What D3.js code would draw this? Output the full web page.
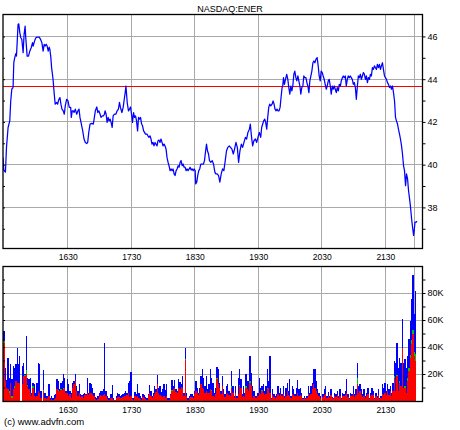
<!DOCTYPE html>
<html><head><meta charset="utf-8">
<script src="https://cdn.jsdelivr.net/npm/d3@7"></script>
<style>
body{margin:0;background:#fff}
svg{display:block}
text{font-family:"Liberation Sans",Arial,sans-serif;fill:#000}
</style>
</head><body>
<svg id="chart" width="460" height="430"></svg>
<script>
// ---------------- DATA ----------------
const title = "NASDAQ:ENER";
const copyright = "(c) www.advfn.com";
const prevClose = 43.66;
// time = minutes after 15:00
const timeTickValues = [90,150,210,270,330,390];
const timeTickLabels = ["1630","1730","1830","1930","2030","2130"];
const cursorTime = 417.4;
const priceTickValues = [37,38,39,40,41,42,43,44,45,46];
const priceLabelValues = [38,40,42,44,46];
const volTickValues = [10,20,30,40,50,60,70,80,90];
const volLabelValues = [20,40,60,80];

const priceTime = [
28.9,29.6,31.2,32.2,33.7,35.3,36.2,37.2,38.4,39.1,
40.0,41.0,41.6,42.2,43.1,43.8,44.8,45.7,46.7,47.9,
48.8,49.8,50.4,51.7,53.0,54.2,55.5,56.8,57.4,58.7,
59.9,61.2,63.1,64.4,65.6,66.8,67.8,68.7,69.7,70.6,
71.6,72.5,73.2,74.1,74.8,75.8,76.3,77.3,78.2,79.6,
80.5,81.4,82.7,83.6,84.6,85.8,86.8,87.7,89.0,90.3,
91.5,92.8,93.4,94.3,95.3,96.0,97.2,98.5,99.7,100.7,
101.6,102.9,104.2,105.4,106.7,108.0,108.9,109.9,111.1,112.7,
114.2,115.2,116.1,117.5,118.4,119.4,120.6,121.5,122.8,123.7,
124.7,
125.3,126.3,127.2,128.2,129.1,130.1,131.0,132.0,132.9,134.2,
135.5,136.7,137.9,138.9,139.8,141.2,142.4,143.4,144.3,145.0,
145.5,146.2,147.4,148.4,149.3,150.3,151.2,152.2,153.1,154.1,
155.0,156.0,156.9,157.9,158.8,159.8,160.7,161.7,162.6,163.5,
164.9,165.8,166.8,167.7,168.7,169.6,170.6,171.5,172.5,173.4,
174.4,175.3,176.2,177.2,178.1,179.1,180.0,181.0,181.9,182.9,
183.8,184.8,185.7,186.7,187.6,188.6,189.5,190.5,191.4,192.4,
193.3,194.3,195.2,196.2,197.1,198.1,199.0,199.9,200.9,201.8,
202.8,203.7,204.7,205.6,206.6,207.5,208.5,209.4,210.4,210.9,
211.9,212.8,213.8,214.7,215.7,217.0,218.2,219.2,220.1,221.1,
222.0,223.0,223.9,225.2,226.5,227.7,
229.0,229.9,231.2,232.5,233.7,235.0,236.3,237.5,238.8,240.0,
241.3,242.6,243.8,245.1,246.4,247.6,248.9,250.2,251.4,252.7,
254.0,255.2,256.5,257.8,259.0,260.2,261.6,262.5,263.5,264.7,
265.9,267.3,268.5,269.7,271.0,272.3,273.2,274.2,275.1,276.1,
277.0,278.0,278.9,279.9,280.8,281.8,283.0,284.0,284.9,285.8,
286.8,287.7,288.7,289.6,290.6,291.5,292.5,293.1,293.8,294.7,
295.7,296.9,297.9,298.8,299.8,300.7,301.7,302.6,303.6,304.5,
305.5,306.4,307.4,308.3,309.3,310.2,311.1,312.1,313.0,314.0,
315.0,315.9,316.8,317.8,318.7,319.7,320.6,321.6,322.5,323.5,
324.4,325.6,326.6,327.5,328.5,329.4,330.4,331.3,332.3,333.2,
334.2,335.1,336.1,337.0,338.0,338.9,339.9,340.8,341.8,342.7,
343.7,344.6,345.6,346.5,347.5,348.4,349.4,350.3,351.2,352.2,
353.1,354.1,355.0,356.0,356.9,357.9,358.8,359.8,360.7,361.7,
362.6,363.6,364.5,365.5,366.4,367.4,368.3,369.3,370.2,371.2,
372.1,373.1,374.0,375.0,375.9,376.8,377.8,378.7,379.7,380.6,
381.6,382.5,383.5,384.4,385.4,386.3,387.3,388.2,389.2,390.1,
391.1,392.0,393.0,393.9,394.9,395.8,396.8,397.7,398.7,399.6,
400.5,401.5,402.4,403.4,404.3,405.3,406.2,407.2,408.1,409.1,
410.0,411.0,411.9,412.9,413.8,414.8,415.7,416.7,417.3,418.0,
419.2,419.9
];
const priceValue = [
40.34,39.75,39.65,40.81,41.74,42.05,42.98,43.53,43.61,44.77,
45.01,45.19,45.08,45.63,46.56,46.59,46.17,45.94,45.86,45.24,
46.09,46.48,45.94,45.08,45.08,45.31,45.47,45.71,45.55,45.78,
45.94,45.97,45.97,45.86,45.71,45.31,45.63,45.55,45.63,45.55,
45.31,45.50,45.39,45.01,44.54,44.15,43.92,43.30,42.83,42.91,
42.83,43.02,43.14,42.83,42.60,42.52,42.36,42.75,43.06,42.98,
42.68,42.68,42.21,42.52,42.52,42.44,42.60,42.36,42.52,42.60,
42.21,41.90,41.58,41.20,41.04,40.99,41.04,41.51,41.90,41.93,
41.90,42.21,42.52,42.70,42.44,42.52,42.36,42.21,42.28,42.28,
42.36,
42.52,42.36,41.98,42.21,42.05,42.13,41.98,41.74,42.28,42.36,
42.36,42.52,42.60,42.91,42.68,42.44,42.68,43.06,43.37,43.68,
43.37,42.91,42.52,42.60,42.70,42.36,41.98,42.44,42.21,42.28,
42.05,41.58,42.21,42.13,42.21,41.90,41.82,41.58,41.51,41.43,
41.43,41.35,41.28,41.35,41.20,40.96,41.04,40.88,41.04,40.96,
40.88,41.12,41.15,41.04,41.20,41.04,40.88,40.96,40.88,40.73,
40.34,40.11,39.95,39.72,39.80,39.72,39.80,39.57,39.49,39.72,
39.80,39.95,39.88,40.11,40.19,39.95,40.03,39.88,39.88,39.72,
39.80,39.72,39.80,39.88,39.75,39.80,39.72,39.80,39.72,39.10,
39.18,39.49,39.72,39.80,40.03,40.03,40.03,40.19,40.58,40.96,
40.65,40.50,40.19,40.11,40.19,40.03,
39.65,39.57,39.57,39.49,39.18,39.57,39.80,39.72,40.19,40.65,
40.81,40.88,40.81,40.73,40.50,40.73,41.04,40.81,40.11,40.65,
40.96,40.81,41.04,41.28,41.20,41.51,41.66,41.90,41.35,40.88,
41.12,41.20,41.04,41.28,41.51,41.28,41.74,41.90,42.05,42.13,
41.98,41.66,42.21,42.68,42.83,42.75,42.83,42.98,42.83,42.60,
42.52,42.60,42.52,42.52,42.68,43.14,43.61,43.68,44.07,43.76,
43.99,44.23,43.99,43.61,43.30,43.68,43.45,43.68,44.23,44.38,
44.07,43.92,44.15,43.92,43.68,43.30,43.61,43.68,44.15,44.07,
44.07,43.84,43.68,43.37,43.92,44.15,44.38,44.77,44.85,44.77,
44.93,45.01,44.62,44.15,43.92,44.38,44.31,44.15,43.99,43.76,
43.53,43.68,43.92,43.99,43.68,43.30,43.68,43.53,43.68,43.53,
43.37,43.61,43.45,43.76,43.68,43.92,44.07,44.15,44.07,44.15,
43.68,43.99,44.15,44.07,44.15,44.07,43.99,43.76,43.84,43.61,
43.06,43.68,44.15,44.07,44.23,43.99,44.15,44.31,44.23,43.99,
44.15,43.84,44.07,43.99,44.23,44.15,44.54,44.46,44.62,44.54,
44.46,44.69,44.54,44.69,44.46,44.62,44.77,44.46,44.15,44.07,
43.99,43.84,43.76,43.61,43.68,43.53,43.68,43.37,42.98,42.21,
42.05,41.90,41.66,41.43,41.20,40.88,40.50,39.95,39.72,39.02,
39.57,39.33,38.79,38.40,38.01,37.47,37.08,36.69,36.92,37.31,
37.31,37.36
];

// volume, thousands of shares; bar i is at time volStart + i*volStep
const volStart = 29.8;
const volStep = 1.25;
const volTotal = [
51.9,24.7,15.3,32.1,17.3,27.2,16.0,25.9,24.7,27.2,
39.5,27.2,33.3,0,25.9,28.4,19.8,48.1,17.3,16.0,
17.3,6.2,13.6,12.3,6.2,13.6,28.4,27.2,7.4,0,
22.7,6.2,3.7,3.7,12.3,2.0,3.7,2.5,4.4,4.9,
16.0,14.8,8.6,13.6,14.8,19.8,17.3,7.4,16.0,12.3,
7.4,6.2,13.6,14.8,20.2,11.1,7.4,12.3,5.4,4.4,
4.9,6.2,4.9,16.8,6.2,13.6,12.3,9.9,6.2,3.0,
2.0,3.7,6.2,7.4,7.4,8.6,43.2,7.4,3.7,2.5,
2.0,4.9,11.9,2.0,1.0,3.7,6.2,4.9,3.7,4.4,
5.4,6.2,7.4,6.2,13.6,14.8,21.7,2.5,2.5,6.9,
4.9,12.8,6.2,3.7,2.0,5.4,4.4,3.0,2.0,5.4,
11.9,7.4,3.7,6.2,11.1,8.6,19.3,9.9,11.1,6.9,
8.6,12.3,7.9,12.3,2.0,2.0,4.9,15.3,11.1,15.3,
8.6,7.4,16.0,14.3,12.3,18.5,6.2,39.0,6.2,2.0,
3.7,4.9,5.4,3.7,7.4,14.8,9.9,6.2,9.9,18.5,
23.5,17.3,11.1,18.5,8.6,12.3,23.5,17.3,13.6,6.2,
9.9,
25.2,23.5,13.6,7.4,18.5,8.6,4.9,11.1,12.4,7.4,
6.2,22.2,11.1,3.7,11.1,3.7,17.3,23.5,16.1,4.9,
11.1,6.2,19.8,14.8,14.8,33.3,21.0,11.1,7.4,3.7,
3.7,6.2,17.3,9.9,11.1,12.4,7.4,11.1,23.5,14.8,
33.3,2.5,8.6,4.9,3.7,4.9,11.1,6.2,9.9,5.4,
11.1,3.7,9.9,13.6,7.4,16.1,3.7,11.1,8.6,5.4,
9.9,15.3,8.6,9.9,6.2,2.5,3.7,2.5,3.7,11.1,
6.2,11.1,13.6,23.5,23.5,14.8,8.6,6.2,3.7,0,
4.9,8.6,11.1,3.7,6.9,3.7,8.6,3.0,2.5,6.2,
4.9,7.4,3.7,8.6,2.5,6.2,4.9,7.4,16.1,4.9,
2.5,6.2,5.4,11.1,4.9,8.6,28.4,11.1,12.4,8.6,
4.9,8.6,3.7,6.2,9.9,2.5,6.2,9.4,7.4,2.5,
6.2,3.7,8.6,2.5,3.7,12.4,9.9,13.6,7.4,12.4,
8.6,11.1,6.2,13.6,29.6,28.4,43.2,24.7,32.1,28.4,
60.5,28.4,30.9,24.7,33.3,45.7,59.3,75.3,93.4,64.2,
81.5
];
const volRed = [
43.2,14.8,9.9,8.6,6.2,13.6,2.5,8.6,9.9,14.8,
13.6,13.6,13.6,0,12.3,18.5,18.5,19.8,11.1,8.6,
6.2,3.7,9.9,3.7,3.0,3.7,7.4,6.2,2.5,0,
7.4,2.5,1.2,2.0,3.7,1.0,1.5,1.0,1.5,2.0,
8.6,7.4,7.4,7.9,7.9,8.6,9.9,6.2,6.2,3.7,
4.9,2.5,9.9,12.3,14.8,7.4,3.7,6.2,3.0,3.7,
2.5,4.4,4.4,6.2,4.4,6.2,6.2,4.9,3.7,1.5,
1.0,1.5,3.7,4.4,3.7,4.4,4.9,3.7,1.5,1.0,
0.7,2.5,2.5,1.0,0.5,2.0,3.0,3.0,2.0,2.5,
3.0,3.7,3.7,4.4,6.2,3.0,3.7,1.5,1.0,3.7,
3.0,3.7,2.5,1.5,1.0,3.0,2.5,1.5,1.0,4.4,
6.2,3.7,2.5,3.7,4.9,6.9,12.3,6.2,4.4,3.7,
3.0,3.7,2.0,3.7,1.0,1.0,4.4,7.4,8.6,9.9,
6.9,6.2,9.9,8.6,10.4,9.9,3.7,30.1,3.7,1.0,
2.5,3.0,3.0,2.5,4.9,7.4,6.2,4.4,6.2,12.3,
9.9,8.6,6.2,7.4,6.2,6.2,8.6,7.4,3.7,3.0,
4.9,
16.1,12.4,9.9,4.9,11.1,4.9,3.0,4.9,6.2,4.4,
3.7,9.9,6.2,2.5,6.2,2.5,4.9,11.1,9.9,3.0,
3.7,3.0,9.9,8.6,7.4,13.6,11.1,2.5,3.7,2.5,
2.0,3.7,6.2,4.9,7.4,6.2,4.4,4.9,8.6,9.9,
6.2,1.5,4.4,3.0,2.5,3.0,4.9,3.7,5.4,3.5,
4.9,2.5,3.7,7.4,4.4,3.7,2.5,4.9,4.4,3.5,
3.7,6.2,3.7,4.4,3.5,1.5,2.5,1.5,2.5,4.9,
3.7,4.9,8.6,12.4,9.9,7.4,4.9,3.7,2.5,0,
3.0,4.4,4.9,2.5,3.7,2.5,4.4,2.0,1.5,3.5,
3.0,4.4,2.5,3.7,1.5,3.7,3.5,4.4,6.2,3.0,
1.5,3.7,3.7,4.9,3.0,4.4,12.4,6.2,7.4,4.4,
3.0,3.7,2.5,3.7,4.9,1.5,3.7,4.4,4.4,1.5,
3.7,2.5,4.4,1.5,2.5,4.9,4.4,6.2,4.4,7.4,
4.4,7.4,3.7,7.4,17.3,7.4,18.5,7.4,13.6,11.1,
39.5,9.9,9.9,6.2,14.8,22.2,32.1,42.0,49.4,33.3,
29.6
];
const greenIndex = [0,4,6,8,16,17,18,22,30,41,43,45,127,137,157,161,172,178,183,186,195,199,267,295,297,299,303,305,306,307,308,309,310,311];
const greenValue = [1,1,1,1,1,3,1,1,1,1,1,1,1,1,1,1,1,1,1,1,1,1,5,1,1,1,1,2,2,2,3,3,3,5];

// ---------------- LAYOUT ----------------
const plotL = 3, plotR = 422.5;
const priceTop = 14, priceBot = 248;
const volTop = 266, volBot = 401;
const gridColor = "#a9a9a9";

const svg = d3.select("#chart");
const x = d3.scaleLinear().domain([28.9, 425.1]).range([plotL, plotR]);
const yP = d3.scaleLinear().domain([36.1, 47.05]).range([priceBot, priceTop]);
const yV = d3.scaleLinear().domain([0, 100]).range([volBot, volTop]);
const snap = v => Math.floor(v) + 0.5;

// clip paths
const defs = svg.append("defs");
defs.append("clipPath").attr("id","clipP").append("rect")
  .attr("x",plotL).attr("y",priceTop).attr("width",plotR-plotL).attr("height",priceBot-priceTop);
defs.append("clipPath").attr("id","clipV").append("rect")
  .attr("x",plotL).attr("y",volTop).attr("width",plotR-plotL).attr("height",volBot-volTop);

// ---- grids ----
function vGrid(top, bot){
  const g = svg.append("g");
  g.selectAll("line.v").data(timeTickValues.concat([cursorTime])).join("line")
    .attr("x1", d=>snap(x(d))).attr("x2", d=>snap(x(d)))
    .attr("y1", top).attr("y2", bot)
    .attr("stroke", gridColor).attr("stroke-width",1);
}
vGrid(priceTop, priceBot);
vGrid(volTop, volBot);
svg.append("g").selectAll("line").data(priceLabelValues).join("line")
  .attr("x1",plotL).attr("x2",plotR)
  .attr("y1",d=>snap(yP(d))).attr("y2",d=>snap(yP(d)))
  .attr("stroke",gridColor);
svg.append("g").selectAll("line").data(volLabelValues).join("line")
  .attr("x1",plotL).attr("x2",plotR)
  .attr("y1",d=>snap(yV(d))).attr("y2",d=>snap(yV(d)))
  .attr("stroke",gridColor);

// ---- previous close ----
svg.append("line")
  .attr("x1",plotL).attr("x2",plotR)
  .attr("y1",snap(yP(prevClose))).attr("y2",snap(yP(prevClose)))
  .attr("stroke","#ff0000").attr("stroke-width",1);

// ---- price line ----
const priceData = d3.zip(priceTime, priceValue);
svg.append("path").datum(priceData)
  .attr("clip-path","url(#clipP)")
  .attr("fill","none").attr("stroke","#0000ff").attr("stroke-width",1.25)
  .attr("stroke-linejoin","round")
  .attr("d", d3.line().x(d=>x(d[0])).y(d=>yP(d[1])));

// ---- volume bars ----
const greenMap = new Map(d3.zip(greenIndex, greenValue));
const volRows = volTotal.map((tot,i)=>{
  const r = volRed[i], g = greenMap.get(i) || 0;
  return {t: volStart + i*volStep, red: r, green: g, blue: Math.max(0, tot - r - g)};
});
const stack = d3.stack().keys(["red","green","blue"])(volRows);
const colors = {red:"#ff0000", green:"#00c800", blue:"#0000ff"};
const bw = x(volStart+volStep) - x(volStart);
const vg = svg.append("g").attr("clip-path","url(#clipV)").attr("shape-rendering","crispEdges");
stack.forEach(layer=>{
  vg.append("g").attr("fill", colors[layer.key])
    .selectAll("rect").data(layer.filter(d=>d[1]>d[0])).join("rect")
    .attr("x", d=>x(d.data.t)-bw/2)
    .attr("width", bw)
    .attr("y", d=>yV(d[1]))
    .attr("height", d=>yV(d[0])-yV(d[1]));
});

// ---- frames ----
[[priceTop,priceBot],[volTop,volBot]].forEach(([t,b])=>{
  svg.append("rect").attr("x",plotL).attr("y",t+0.5)
    .attr("width",plotR-plotL).attr("height",b-t)
    .attr("fill","none").attr("stroke","#000").attr("stroke-width",1.3);
});

// ---- axes ----
function styleAxis(g){ g.select(".domain").remove(); g.selectAll("line").attr("stroke","#000"); }
// right price axis
const pr = svg.append("g").attr("transform",`translate(${plotR},0)`)
  .call(d3.axisRight(yP).tickValues(priceTickValues).tickSize(3).tickPadding(2)
    .tickFormat(d=>priceLabelValues.includes(d)? d : ""));
styleAxis(pr);
pr.selectAll("text").attr("font-size",9);
// left price ticks (inside)
const pl = svg.append("g").attr("transform",`translate(${plotL},0)`)
  .call(d3.axisRight(yP).tickValues(priceTickValues).tickSize(2).tickFormat(""));
styleAxis(pl);
// right volume axis
const vr = svg.append("g").attr("transform",`translate(${plotR},0)`)
  .call(d3.axisRight(yV).tickValues(volTickValues).tickSize(3).tickPadding(2)
    .tickFormat(d=>volLabelValues.includes(d)? d+"K" : ""));
styleAxis(vr);
vr.selectAll("text").attr("font-size",9);
const vl = svg.append("g").attr("transform",`translate(${plotL},0)`)
  .call(d3.axisRight(yV).tickValues(volTickValues).tickSize(2).tickFormat(""));
styleAxis(vl);
// time axes
[priceBot, volBot].forEach(b=>{
  const g = svg.append("g").attr("transform",`translate(0,${b})`)
    .call(d3.axisBottom(x).tickValues(timeTickValues).tickSize(0)
      .tickFormat((d,i)=>timeTickLabels[i]));
  styleAxis(g);
  g.selectAll("text").attr("font-size",8.5).attr("y",11.5).attr("dy",0);
});

// ---- texts ----
svg.append("text").attr("x",230).attr("y",11.5).attr("text-anchor","middle")
  .attr("font-size",9).text(title);
svg.append("text").attr("x",4).attr("y",425).attr("font-size",9.5).text(copyright);
</script>
</body></html>
